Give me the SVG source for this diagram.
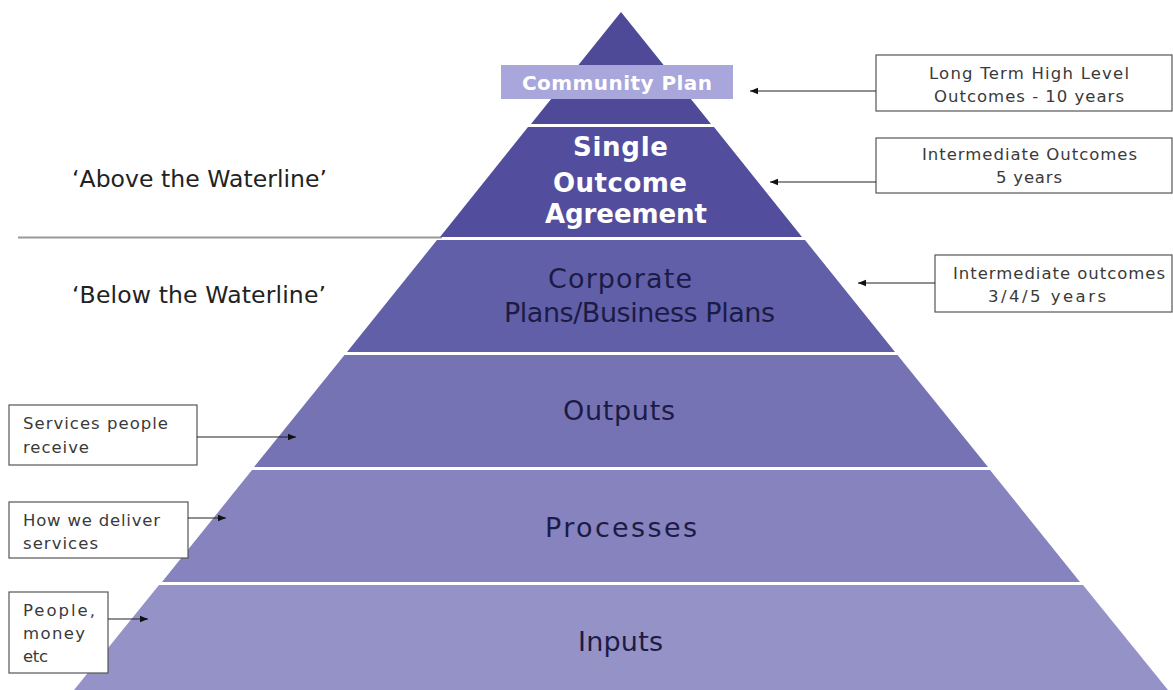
<svg xmlns="http://www.w3.org/2000/svg" width="1173" height="690" viewBox="0 0 1173 690">
<defs>
<marker id="ah" viewBox="0 0 10 10" refX="10" refY="5" markerWidth="8" markerHeight="8" markerUnits="userSpaceOnUse" orient="auto">
<path d="M0,1 L10,5 L0,9 z" fill="#111"/>
</marker>
<style>
.tierTxt{font-family:"DejaVu Sans","Liberation Sans",sans-serif;fill:#1c1b45;font-size:27px}
.boldTxt{font-family:"DejaVu Sans","Liberation Sans",sans-serif;fill:#fff;font-weight:bold}
.box{fill:#fff;stroke:#555;stroke-width:1.2}
.boxTxt{font-family:"DejaVu Sans","Liberation Sans",sans-serif;fill:#3a3a3a;font-size:16.5px}
.side{font-family:"DejaVu Sans","Liberation Sans",sans-serif;fill:#222;font-size:23.5px}
.conn{stroke:#222;stroke-width:1.2;fill:none;marker-end:url(#ah)}
</style>
</defs>
<rect width="1173" height="690" fill="#fff"/>
<line x1="18" y1="237.5" x2="442" y2="237.5" stroke="#999" stroke-width="2"/>
<g id="community-plan">
<polygon points="621,12 711,124 531,124" fill="#4e4a98"/>
<rect x="501" y="65" width="232" height="34" fill="#a8a6da"/>
<text class="boldTxt" x="522" y="90" font-size="20" textLength="190">Community Plan</text>
</g>
<g id="single-outcome-agreement">
<polygon points="528,127 714,127 802,237 440,237" fill="#524e9d"/>
<text class="boldTxt" x="573" y="156" font-size="26" textLength="95">Single</text>
<text class="boldTxt" x="553" y="192" font-size="26" textLength="134">Outcome</text>
<text class="boldTxt" x="545" y="223" font-size="26" textLength="162">Agreement</text>
</g>
<g id="corporate-plans">
<polygon points="437,240 805,240 895,352 347,352" fill="#625fa9"/>
<text class="tierTxt" x="548" y="288" textLength="144">Corporate</text>
<text class="tierTxt" x="504" y="322" textLength="271">Plans/Business Plans</text>
</g>
<g id="outputs">
<polygon points="344.5,355 897.5,355 988,467 254,467" fill="#7673b5"/>
<text class="tierTxt" x="563" y="420" textLength="112">Outputs</text>
</g>
<g id="processes">
<polygon points="252,470 990,470 1080,582 162,582" fill="#8683bf"/>
<text class="tierTxt" x="545" y="537" textLength="152">Processes</text>
</g>
<g id="inputs">
<polygon points="159,585 1083,585 1168,690 74,690" fill="#9592c8"/>
<text class="tierTxt" x="578" y="651" textLength="85">Inputs</text>
</g>
<g id="above-waterline"><text class="side" x="72" y="187" textLength="255">‘Above the Waterline’</text></g>
<g id="below-waterline"><text class="side" x="72" y="303" textLength="254">‘Below the Waterline’</text></g>
<g id="box-long-term">
<rect class="box" x="876" y="55" width="296" height="56"/>
<text class="boxTxt" x="929" y="79" textLength="200">Long Term High Level</text>
<text class="boxTxt" x="934" y="102" textLength="190">Outcomes - 10 years</text>
</g>
<g id="box-intermediate-5">
<rect class="box" x="876" y="138" width="296" height="55"/>
<text class="boxTxt" x="922" y="160" textLength="215">Intermediate Outcomes</text>
<text class="boxTxt" x="996" y="183" textLength="66">5 years</text>
</g>
<g id="box-intermediate-345">
<rect class="box" x="935" y="255" width="237" height="57"/>
<text class="boxTxt" x="953" y="279" textLength="212">Intermediate outcomes</text>
<text class="boxTxt" x="988" y="302" font-size="17" textLength="118">3/4/5 years</text>
</g>
<g id="box-services">
<rect class="box" x="9" y="405" width="188" height="60"/>
<text class="boxTxt" x="23" y="429" textLength="145">Services people</text>
<text class="boxTxt" x="23" y="453" textLength="66">receive</text>
</g>
<g id="box-deliver">
<rect class="box" x="9" y="502" width="179" height="56"/>
<text class="boxTxt" x="23" y="526" textLength="137">How we deliver</text>
<text class="boxTxt" x="23" y="549" textLength="75">services</text>
</g>
<g id="box-people">
<rect class="box" x="9" y="592" width="99" height="81"/>
<text class="boxTxt" x="23" y="616" textLength="72">People,</text>
<text class="boxTxt" x="23" y="639" textLength="62">money</text>
<text class="boxTxt" x="23" y="662" textLength="25">etc</text>
</g>
<g id="connectors">
<line class="conn" x1="876" y1="91" x2="750" y2="91"/>
<line class="conn" x1="876" y1="182" x2="770" y2="182"/>
<line class="conn" x1="935" y1="283" x2="858" y2="283"/>
<line class="conn" x1="197" y1="437" x2="296" y2="437"/>
<line class="conn" x1="188" y1="518" x2="226" y2="518"/>
<line class="conn" x1="108" y1="619" x2="148" y2="619"/>
</g>
</svg>
